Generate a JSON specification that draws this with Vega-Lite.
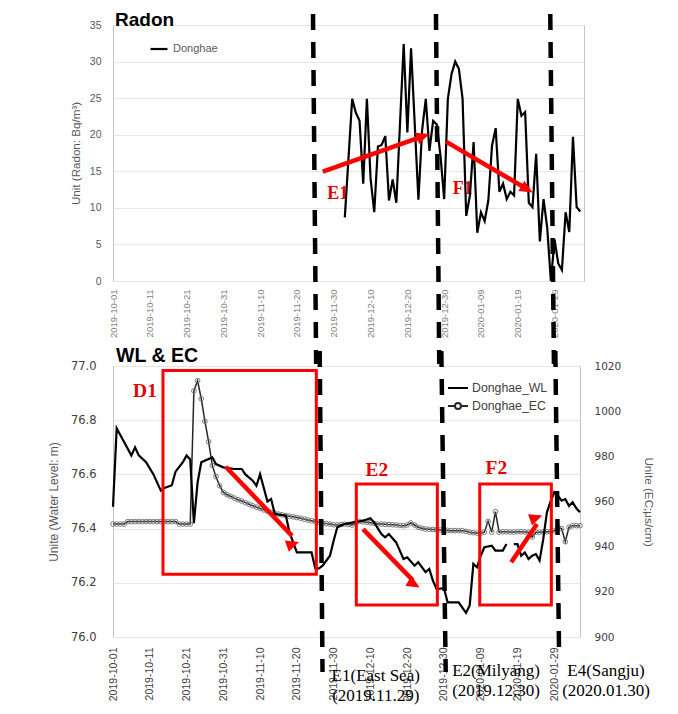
{
  "$schema": "https://vega.github.io/schema/vega-lite/v6.json",
  "background": "white",
  "padding": {"left": 46, "top": 10, "right": 5, "bottom": 5},
  "bounds": "flush",
  "spacing": 85,
  "resolve": {"scale": {"color": "independent"}, "legend": {"color": "independent"}},
  "config": {
    "font": "Liberation Sans",
    "view": {"stroke": "#c4c4c4", "strokeWidth": 1},
    "axis": {"ticks": false, "domain": false, "labelOverlap": false, "labelBound": false, "titleFontWeight": "normal", "titleColor": "#595959", "labelColor": "#595959", "titleFont": "Liberation Sans", "gridColor": "#e6e6e6", "gridWidth": 1},
    "legend": {"padding": 0}
  },
  "datasets": {
    "radon": [
      {"date":"2019-12-03","radon":8.7},{"date":"2019-12-05","radon":24.9},{"date":"2019-12-06","radon":23.0},{"date":"2019-12-07","radon":21.9},{"date":"2019-12-08","radon":13.3},{"date":"2019-12-09","radon":24.9},{"date":"2019-12-10","radon":14.0},{"date":"2019-12-11","radon":9.4},{"date":"2019-12-12","radon":18.4},{"date":"2019-12-13","radon":18.6},{"date":"2019-12-14","radon":19.8},{"date":"2019-12-15","radon":11.0},{"date":"2019-12-16","radon":13.9},{"date":"2019-12-17","radon":10.7},{"date":"2019-12-19","radon":32.4},{"date":"2019-12-20","radon":20.3},{"date":"2019-12-21","radon":31.8},{"date":"2019-12-23","radon":11.1},{"date":"2019-12-24","radon":20.6},{"date":"2019-12-25","radon":24.9},{"date":"2019-12-26","radon":17.8},{"date":"2019-12-27","radon":21.9},{"date":"2019-12-28","radon":21.4},{"date":"2019-12-29","radon":17.1},{"date":"2019-12-30","radon":11.2},{"date":"2019-12-31","radon":24.9},{"date":"2020-01-01","radon":28.3},{"date":"2020-01-02","radon":30.0},{"date":"2020-01-03","radon":29.0},{"date":"2020-01-04","radon":24.9},{"date":"2020-01-05","radon":8.9},{"date":"2020-01-06","radon":11.7},{"date":"2020-01-07","radon":19.0},{"date":"2020-01-08","radon":6.6},{"date":"2020-01-09","radon":9.4},{"date":"2020-01-10","radon":8.2},{"date":"2020-01-11","radon":11.0},{"date":"2020-01-12","radon":18.5},{"date":"2020-01-13","radon":20.9},{"date":"2020-01-14","radon":12.2},{"date":"2020-01-15","radon":13.3},{"date":"2020-01-16","radon":11.2},{"date":"2020-01-17","radon":12.2},{"date":"2020-01-18","radon":11.7},{"date":"2020-01-19","radon":24.9},{"date":"2020-01-20","radon":22.6},{"date":"2020-01-21","radon":23.1},{"date":"2020-01-22","radon":10.7},{"date":"2020-01-23","radon":10.1},{"date":"2020-01-24","radon":17.4},{"date":"2020-01-25","radon":5.4},{"date":"2020-01-26","radon":11.2},{"date":"2020-01-27","radon":7.3},{"date":"2020-01-28","radon":0.0},{"date":"2020-01-29","radon":5.7},{"date":"2020-01-30","radon":2.4},{"date":"2020-01-31","radon":1.5},{"date":"2020-02-01","radon":9.4},{"date":"2020-02-02","radon":6.7},{"date":"2020-02-03","radon":19.7},{"date":"2020-02-04","radon":10.1},{"date":"2020-02-05","radon":9.5}
    ],
    "wl": [
      {"date":"2019-10-01","wl":76.48},{"date":"2019-10-02","wl":76.77},{"date":"2019-10-06","wl":76.67},{"date":"2019-10-07","wl":76.70},{"date":"2019-10-08","wl":76.67},{"date":"2019-10-10","wl":76.645},{"date":"2019-10-12","wl":76.60},{"date":"2019-10-14","wl":76.54},{"date":"2019-10-15","wl":76.55},{"date":"2019-10-17","wl":76.56},{"date":"2019-10-18","wl":76.61},{"date":"2019-10-20","wl":76.645},{"date":"2019-10-21","wl":76.67},{"date":"2019-10-22","wl":76.655},{"date":"2019-10-23","wl":76.42},{"date":"2019-10-24","wl":76.57},{"date":"2019-10-25","wl":76.645},{"date":"2019-10-27","wl":76.657},{"date":"2019-10-28","wl":76.663},{"date":"2019-10-29","wl":76.638},{"date":"2019-10-31","wl":76.626},{"date":"2019-11-03","wl":76.62},{"date":"2019-11-05","wl":76.62},{"date":"2019-11-06","wl":76.60},{"date":"2019-11-08","wl":76.577},{"date":"2019-11-09","wl":76.558},{"date":"2019-11-10","wl":76.601},{"date":"2019-11-12","wl":76.50},{"date":"2019-11-13","wl":76.509},{"date":"2019-11-14","wl":76.454},{"date":"2019-11-17","wl":76.448},{"date":"2019-11-18","wl":76.386},{"date":"2019-11-20","wl":76.312},{"date":"2019-11-24","wl":76.312},{"date":"2019-11-25","wl":76.253},{"date":"2019-11-26","wl":76.253},{"date":"2019-11-27","wl":76.263},{"date":"2019-11-29","wl":76.30},{"date":"2019-11-30","wl":76.355},{"date":"2019-12-01","wl":76.405},{"date":"2019-12-03","wl":76.417},{"date":"2019-12-06","wl":76.425},{"date":"2019-12-08","wl":76.429},{"date":"2019-12-10","wl":76.438},{"date":"2019-12-11","wl":76.423},{"date":"2019-12-13","wl":76.38},{"date":"2019-12-14","wl":76.368},{"date":"2019-12-15","wl":76.38},{"date":"2019-12-17","wl":76.349},{"date":"2019-12-19","wl":76.288},{"date":"2019-12-20","wl":76.294},{"date":"2019-12-22","wl":76.263},{"date":"2019-12-23","wl":76.276},{"date":"2019-12-25","wl":76.239},{"date":"2019-12-26","wl":76.251},{"date":"2019-12-27","wl":76.208},{"date":"2019-12-28","wl":76.177},{"date":"2019-12-30","wl":76.18},{"date":"2019-12-31","wl":76.128},{"date":"2020-01-03","wl":76.128},{"date":"2020-01-05","wl":76.089},{"date":"2020-01-06","wl":76.116},{"date":"2020-01-07","wl":76.27},{"date":"2020-01-08","wl":76.257},{"date":"2020-01-09","wl":76.30},{"date":"2020-01-10","wl":76.331},{"date":"2020-01-12","wl":76.337},{"date":"2020-01-13","wl":76.319},{"date":"2020-01-15","wl":76.319},{"date":"2020-01-16","wl":76.343},{"date":"2020-01-17","wl":null},{"date":"2020-01-18","wl":76.343},{"date":"2020-01-19","wl":76.343},{"date":"2020-01-20","wl":76.30},{"date":"2020-01-21","wl":76.312},{"date":"2020-01-22","wl":76.288},{"date":"2020-01-23","wl":76.30},{"date":"2020-01-24","wl":76.306},{"date":"2020-01-25","wl":76.282},{"date":"2020-01-26","wl":76.36},{"date":"2020-01-27","wl":76.46},{"date":"2020-01-28","wl":76.50},{"date":"2020-01-29","wl":76.534},{"date":"2020-01-30","wl":76.521},{"date":"2020-01-31","wl":76.503},{"date":"2020-02-01","wl":76.509},{"date":"2020-02-02","wl":76.484},{"date":"2020-02-03","wl":76.497},{"date":"2020-02-04","wl":76.475},{"date":"2020-02-05","wl":76.46}
    ],
    "ec": [
      {"date":"2019-10-01","ec":950.0},{"date":"2019-10-02","ec":950.0},{"date":"2019-10-03","ec":950.0},{"date":"2019-10-04","ec":950.0},{"date":"2019-10-05","ec":951.1},{"date":"2019-10-06","ec":951.1},{"date":"2019-10-07","ec":951.1},{"date":"2019-10-08","ec":951.1},{"date":"2019-10-09","ec":951.1},{"date":"2019-10-10","ec":951.1},{"date":"2019-10-11","ec":951.1},{"date":"2019-10-12","ec":951.1},{"date":"2019-10-13","ec":951.1},{"date":"2019-10-14","ec":951.1},{"date":"2019-10-15","ec":951.1},{"date":"2019-10-16","ec":951.1},{"date":"2019-10-17","ec":951.1},{"date":"2019-10-18","ec":951.1},{"date":"2019-10-19","ec":950.0},{"date":"2019-10-20","ec":950.0},{"date":"2019-10-21","ec":950.0},{"date":"2019-10-22","ec":950.0},{"date":"2019-10-23","ec":1009.0},{"date":"2019-10-24","ec":1013.5},{"date":"2019-10-25","ec":1005.5},{"date":"2019-10-26","ec":995.5},{"date":"2019-10-27","ec":986.5},{"date":"2019-10-28","ec":976.0},{"date":"2019-10-29","ec":971.0},{"date":"2019-10-30","ec":967.0},{"date":"2019-10-31","ec":964.0},
      {"date":"2019-11-01","ec":963.0},{"date":"2019-11-02","ec":962.3},{"date":"2019-11-03","ec":961.5},{"date":"2019-11-04","ec":960.8},{"date":"2019-11-05","ec":960.2},{"date":"2019-11-06","ec":959.5},{"date":"2019-11-07","ec":958.8},{"date":"2019-11-08","ec":958.1},{"date":"2019-11-09","ec":957.5},{"date":"2019-11-10","ec":956.9},{"date":"2019-11-11","ec":956.3},{"date":"2019-11-12","ec":955.7},{"date":"2019-11-13","ec":955.2},{"date":"2019-11-14","ec":954.8},{"date":"2019-11-15","ec":954.4},{"date":"2019-11-16","ec":954.1},{"date":"2019-11-17","ec":953.8},{"date":"2019-11-18","ec":953.5},{"date":"2019-11-19","ec":953.2},{"date":"2019-11-20","ec":952.9},{"date":"2019-11-21","ec":952.6},{"date":"2019-11-22","ec":952.2},{"date":"2019-11-23","ec":951.8},{"date":"2019-11-24","ec":951.5},{"date":"2019-11-25","ec":951.1},{"date":"2019-11-26","ec":950.8},{"date":"2019-11-27","ec":950.5},{"date":"2019-11-28","ec":950.2},{"date":"2019-11-29","ec":950.0},{"date":"2019-11-30","ec":949.7},
      {"date":"2019-12-01","ec":949.6},{"date":"2019-12-02","ec":949.8},{"date":"2019-12-03","ec":950.0},{"date":"2019-12-04","ec":949.8},{"date":"2019-12-05","ec":949.6},{"date":"2019-12-06","ec":950.4},{"date":"2019-12-07","ec":951.2},{"date":"2019-12-08","ec":951.0},{"date":"2019-12-09","ec":950.8},{"date":"2019-12-10","ec":950.6},{"date":"2019-12-11","ec":950.3},{"date":"2019-12-12","ec":950.0},{"date":"2019-12-13","ec":950.0},{"date":"2019-12-14","ec":949.9},{"date":"2019-12-15","ec":949.8},{"date":"2019-12-16","ec":949.7},{"date":"2019-12-17","ec":949.6},{"date":"2019-12-18","ec":949.4},{"date":"2019-12-19","ec":949.3},{"date":"2019-12-20","ec":949.6},{"date":"2019-12-21","ec":950.5},{"date":"2019-12-22","ec":949.6},{"date":"2019-12-23","ec":948.6},{"date":"2019-12-24","ec":948.2},{"date":"2019-12-25","ec":947.8},{"date":"2019-12-26","ec":947.7},{"date":"2019-12-27","ec":947.6},{"date":"2019-12-28","ec":947.5},{"date":"2019-12-29","ec":947.4},{"date":"2019-12-30","ec":947.3},{"date":"2019-12-31","ec":947.2},
      {"date":"2020-01-01","ec":947.1},{"date":"2020-01-02","ec":947.1},{"date":"2020-01-03","ec":947.1},{"date":"2020-01-04","ec":947.1},{"date":"2020-01-05","ec":946.8},{"date":"2020-01-06","ec":946.4},{"date":"2020-01-07","ec":946.2},{"date":"2020-01-08","ec":946.0},{"date":"2020-01-09","ec":946.0},{"date":"2020-01-10","ec":946.4},{"date":"2020-01-11","ec":951.2},{"date":"2020-01-12","ec":946.4},{"date":"2020-01-13","ec":955.5},{"date":"2020-01-14","ec":946.4},{"date":"2020-01-15","ec":946.6},{"date":"2020-01-16","ec":946.6},{"date":"2020-01-17","ec":946.5},{"date":"2020-01-18","ec":946.5},{"date":"2020-01-19","ec":946.6},{"date":"2020-01-20","ec":946.6},{"date":"2020-01-21","ec":946.5},{"date":"2020-01-22","ec":946.4},{"date":"2020-01-23","ec":944.3},{"date":"2020-01-24","ec":946.4},{"date":"2020-01-25","ec":946.4},{"date":"2020-01-26","ec":946.5},{"date":"2020-01-27","ec":946.6},{"date":"2020-01-28","ec":946.6},{"date":"2020-01-29","ec":947.0},{"date":"2020-01-30","ec":948.6},{"date":"2020-01-31","ec":948.0},
      {"date":"2020-02-01","ec":942.2},{"date":"2020-02-02","ec":948.6},{"date":"2020-02-03","ec":949.3},{"date":"2020-02-04","ec":949.3},{"date":"2020-02-05","ec":949.3}
    ],
    "topDash": [
      {"xa":"2019-11-24T08:24:00Z","ya":36.5,"xb":"2019-11-25T05:00:00Z","yb":-11.35},
      {"xa":"2019-12-27T18:30:00Z","ya":36.5,"xb":"2019-12-28T16:00:00Z","yb":-11.35},
      {"xa":"2020-01-27T20:00:00Z","ya":36.5,"xb":"2020-01-28T20:00:00Z","yb":-11.35}
    ],
    "topArrows": [
      {"id":"E1","xa":"2019-11-27T00:00:00Z","ya":14.94,"xb":"2019-12-23T09:36:00Z","yb":19.65,"xt":"2019-12-25T22:48:00Z","yt":20.1},
      {"id":"F1","xa":"2019-12-30T12:00:00Z","ya":19.05,"xb":"2020-01-20T16:48:00Z","yb":12.81,"xt":"2020-01-23T01:12:00Z","yt":12.1}
    ],
    "topLabels": [
      {"label":"E1","date":"2019-12-01T02:00:00Z","v":11.9},
      {"label":"F1","date":"2020-01-04T01:00:00Z","v":12.6}
    ],
    "botDash": [
      {"xa":"2019-11-26T05:00:00Z","ya":77.055,"xb":"2019-11-26T23:30:00Z","yb":75.871},
      {"xa":"2019-12-29T07:00:00Z","ya":77.055,"xb":"2019-12-30T11:30:00Z","yb":75.871},
      {"xa":"2020-01-29T07:00:00Z","ya":77.055,"xb":"2020-01-30T07:00:00Z","yb":75.956}
    ],
    "botBoxes": [
      {"id":"D1","xa":"2019-10-14T14:24:00Z","xb":"2019-11-25T07:00:00Z","ya":76.983,"yb":76.232},
      {"id":"E2","xa":"2019-12-06T04:00:00Z","xb":"2019-12-28T05:00:00Z","ya":76.565,"yb":76.118},
      {"id":"F2","xa":"2020-01-08T17:30:00Z","xb":"2020-01-28T05:00:00Z","ya":76.565,"yb":76.118}
    ],
    "botArrows": [
      {"id":"D1","xa":"2019-10-31T15:36:00Z","ya":76.628,"xb":"2019-11-18T16:48:00Z","yb":76.373,"xt":"2019-11-20T14:24:00Z","yt":76.351},
      {"id":"E2","xa":"2019-12-08T00:00:00Z","ya":76.398,"xb":"2019-12-21T12:00:00Z","yb":76.21,"xt":"2019-12-23T09:36:00Z","yt":76.183},
      {"id":"F2","xa":"2020-01-17T07:12:00Z","ya":76.276,"xb":"2020-01-24T07:12:00Z","yb":76.417,"xt":"2020-01-25T18:00:00Z","yt":76.448}
    ],
    "botLabels": [
      {"label":"D1","date":"2019-10-09T17:00:00Z","v":76.908},
      {"label":"E2","date":"2019-12-11T19:00:00Z","v":76.617},
      {"label":"F2","date":"2020-01-13T06:00:00Z","v":76.622}
    ],
    "botNotes": [
      {"label":"E1(East Sea)","date":"2019-12-11T10:48:00Z","v":75.856},
      {"label":"(2019.11.29)","date":"2019-12-11T10:48:00Z","v":75.782},
      {"label":"E2(Milyang)","date":"2020-01-13T04:00:00Z","v":75.875},
      {"label":"(2019.12.30)","date":"2020-01-13T04:00:00Z","v":75.801},
      {"label":"E4(Sangju)","date":"2020-02-12T02:00:00Z","v":75.875},
      {"label":"(2020.01.30)","date":"2020-02-12T02:00:00Z","v":75.801}
    ]
  },
  "vconcat": [
    {
      "width": 471,
      "height": 256,
      "title": {"text": "Radon", "anchor": "start", "frame": "group", "offset": -18, "font": "Liberation Sans", "fontSize": 19, "fontWeight": "bold", "color": "#000000", "dx": 2},
      "layer": [
        {
          "data": {"name": "topLabels"},
          "mark": {"type": "text", "font": "Liberation Serif", "fontWeight": "bold", "fontSize": 18, "color": "#e60000", "align": "center", "baseline": "middle"},
          "encoding": {
            "x": {"field": "date", "type": "temporal",
              "scale": {"type": "utc", "domain": [{"year":2019,"month":10,"date":1,"utc":true},{"year":2020,"month":2,"date":6,"utc":true}]},
              "axis": {"title": null, "format": "%Y-%m-%d", "tickCount": 50, "labelAngle": -90, "labelFont": "Liberation Sans", "labelFontSize": 9.5, "labelColor": "#808080", "labelPadding": 8, "labelOverlap": false, "labelFlush": false, "grid": false,
                "values": [{"year":2019,"month":10,"date":1,"utc":true},{"year":2019,"month":10,"date":11,"utc":true},{"year":2019,"month":10,"date":21,"utc":true},{"year":2019,"month":10,"date":31,"utc":true},{"year":2019,"month":11,"date":10,"utc":true},{"year":2019,"month":11,"date":20,"utc":true},{"year":2019,"month":11,"date":30,"utc":true},{"year":2019,"month":12,"date":10,"utc":true},{"year":2019,"month":12,"date":20,"utc":true},{"year":2019,"month":12,"date":30,"utc":true},{"year":2020,"month":1,"date":9,"utc":true},{"year":2020,"month":1,"date":19,"utc":true},{"year":2020,"month":1,"date":29,"utc":true}]}},
            "y": {"field": "v", "type": "quantitative",
              "scale": {"domain": [0, 35], "nice": false, "zero": false},
              "axis": {"title": "Unit (Radon: Bq/m³)", "values": [0,5,10,15,20,25,30,35], "format": "d", "tickCount": 50, "labelOverlap": false, "grid": true, "labelFont": "Liberation Sans", "labelFontSize": 10.5, "labelPadding": 12, "titleFontSize": 11.6, "titlePadding": 8}},
            "text": {"field": "label", "type": "nominal"}
          }
        },
        {
          "data": {"name": "radon"},
          "mark": {"type": "line", "strokeWidth": 2.2},
          "encoding": {
            "x": {"field": "date", "type": "temporal"},
            "y": {"field": "radon", "type": "quantitative"},
            "color": {"datum": "Donghae", "type": "nominal", "scale": {"domain": ["Donghae"], "range": ["#000000"]},
              "legend": {"title": null, "orient": "none", "legendX": 36, "legendY": 14, "symbolType": "stroke", "symbolSize": 289, "symbolStrokeWidth": 2.2, "labelFont": "Liberation Sans", "labelFontSize": 11, "labelColor": "#595959", "labelOffset": 4}}
          }
        },
        {
          "data": {"name": "topArrows"},
          "mark": {"type": "rule", "color": "#ff0000", "strokeWidth": 4.5, "strokeCap": "butt"},
          "encoding": {
            "x": {"field": "xa", "type": "temporal"},
            "x2": {"field": "xb"},
            "y": {"field": "ya", "type": "quantitative"},
            "y2": {"field": "yb"}
          }
        },
        {
          "data": {"name": "topArrows"},
          "mark": {"type": "point", "shape": "M0,0L0.6,1.3L-0.6,1.3Z", "filled": true, "color": "#ff0000", "size": 400, "opacity": 1},
          "encoding": {
            "x": {"field": "xt", "type": "temporal"},
            "y": {"field": "yt", "type": "quantitative"},
            "angle": {"field": "id", "type": "nominal", "scale": {"type": "ordinal", "domain": ["E1", "F1"], "range": [70.5, 120.3]}, "legend": null}
          }
        },
        {
          "data": {"name": "topDash"},
          "mark": {"type": "rule", "color": "#000000", "strokeWidth": 4.5, "strokeDash": [16, 12], "strokeCap": "butt"},
          "encoding": {
            "x": {"field": "xa", "type": "temporal"},
            "x2": {"field": "xb"},
            "y": {"field": "ya", "type": "quantitative"},
            "y2": {"field": "yb"}
          }
        }
      ]
    },
    {
      "width": 467,
      "height": 271,
      "title": {"text": "WL & EC", "anchor": "start", "frame": "group", "offset": -18, "font": "Liberation Sans", "fontSize": 19.5, "fontWeight": "bold", "color": "#000000", "dx": 3},
      "resolve": {"scale": {"y": "independent"}},
      "layer": [
        {
          "layer": [
            {
              "data": {"name": "ec"},
              "mark": {"type": "line", "strokeWidth": 1.5},
              "encoding": {
                "x": {"field": "date", "type": "temporal"},
                "y": {"field": "ec", "type": "quantitative",
                  "scale": {"domain": [900, 1020], "nice": false, "zero": false},
                  "axis": {"title": "Unite (EC;μs/cm)", "orient": "right", "values": [900,920,940,960,980,1000,1020], "tickCount": 50, "format": "d", "labelOverlap": false, "grid": false, "labelFont": "DejaVu Sans", "labelFontSize": 10.5, "labelColor": "#404040", "labelPadding": 14, "titleFontSize": 11.7, "titlePadding": 22}},
                "color": {"datum": "Donghae_EC", "type": "nominal"}
              }
            },
            {
              "data": {"name": "ec"},
              "mark": {"type": "point", "shape": "circle", "size": 22, "filled": false, "stroke": "#7a7a7a", "strokeWidth": 1, "opacity": 1},
              "encoding": {
                "x": {"field": "date", "type": "temporal"},
                "y": {"field": "ec", "type": "quantitative"}
              }
            }
          ]
        },
        {
          "layer": [
            {
              "data": {"name": "wl"},
              "mark": {"type": "line", "strokeWidth": 2.2, "invalid": "break-paths-filter-domains"},
              "encoding": {
                "x": {"field": "date", "type": "temporal",
                  "scale": {"type": "utc", "domain": [{"year":2019,"month":10,"date":1,"utc":true},{"year":2020,"month":2,"date":5,"utc":true}]},
                  "axis": {"title": null, "format": "%Y-%m-%d", "tickCount": 50, "labelAngle": -90, "labelFont": "Liberation Sans", "labelFontSize": 10.5, "labelColor": "#404040", "labelPadding": 10, "labelOverlap": false, "labelFlush": false, "grid": false,
                    "values": [{"year":2019,"month":10,"date":1,"utc":true},{"year":2019,"month":10,"date":11,"utc":true},{"year":2019,"month":10,"date":21,"utc":true},{"year":2019,"month":10,"date":31,"utc":true},{"year":2019,"month":11,"date":10,"utc":true},{"year":2019,"month":11,"date":20,"utc":true},{"year":2019,"month":11,"date":30,"utc":true},{"year":2019,"month":12,"date":10,"utc":true},{"year":2019,"month":12,"date":20,"utc":true},{"year":2019,"month":12,"date":30,"utc":true},{"year":2020,"month":1,"date":9,"utc":true},{"year":2020,"month":1,"date":19,"utc":true},{"year":2020,"month":1,"date":29,"utc":true}]}},
                "y": {"field": "wl", "type": "quantitative",
                  "scale": {"domain": [76, 77], "nice": false, "zero": false},
                  "axis": {"title": "Unite (Water Level: m)", "orient": "left", "values": [76,76.2,76.4,76.6,76.8,77], "tickCount": 50, "format": ".1f", "labelOverlap": false, "grid": true, "labelFont": "DejaVu Sans", "labelFontSize": 11.5, "labelColor": "#404040", "labelPadding": 17, "titleFontSize": 12, "titlePadding": 10}},
                "color": {"datum": "Donghae_WL", "type": "nominal",
                  "scale": {"domain": ["Donghae_WL", "Donghae_EC"], "range": ["#000000", "#262626"]},
                  "legend": {"title": null, "orient": "none", "legendX": 334, "legendY": 11, "symbolType": "stroke", "symbolSize": 400, "symbolStrokeWidth": 2, "labelFont": "Liberation Sans", "labelFontSize": 12.3, "labelColor": "#404040", "labelOffset": 3, "rowPadding": 0,
                    "encode": {"symbols": {"update": {"shape": {"signal": "datum.value === 'Donghae_EC' ? 'M-1,0L-0.3,0M0.3,0L1,0M-0.3,0A0.3,0.3,0,1,1,0.3,0A0.3,0.3,0,1,1,-0.3,0' : 'stroke'"}, "fill": {"value": "white"}}}}}}
              }
            },
            {
              "data": {"name": "botBoxes"},
              "mark": {"type": "rect", "fillOpacity": 0, "stroke": "#ff0000", "strokeWidth": 3},
              "encoding": {
                "x": {"field": "xa", "type": "temporal"},
                "x2": {"field": "xb"},
                "y": {"field": "ya", "type": "quantitative"},
                "y2": {"field": "yb"}
              }
            },
            {
              "data": {"name": "botArrows"},
              "mark": {"type": "rule", "color": "#ff0000", "strokeWidth": 4.5, "strokeCap": "butt"},
              "encoding": {
                "x": {"field": "xa", "type": "temporal"},
                "x2": {"field": "xb"},
                "y": {"field": "ya", "type": "quantitative"},
                "y2": {"field": "yb"}
              }
            },
            {
              "data": {"name": "botArrows"},
              "mark": {"type": "point", "shape": "M0,0L0.6,1.3L-0.6,1.3Z", "filled": true, "color": "#ff0000", "size": 400, "opacity": 1},
              "encoding": {
                "x": {"field": "xt", "type": "temporal"},
                "y": {"field": "yt", "type": "quantitative"},
                "angle": {"field": "id", "type": "nominal", "scale": {"type": "ordinal", "domain": ["D1", "E2", "F2"], "range": [136.2, 135.8, 33.6]}, "legend": null}
              }
            },
            {
              "data": {"name": "botLabels"},
              "mark": {"type": "text", "font": "Liberation Serif", "fontWeight": "bold", "fontSize": 19.5, "color": "#e60000", "align": "center", "baseline": "middle"},
              "encoding": {
                "x": {"field": "date", "type": "temporal"},
                "y": {"field": "v", "type": "quantitative"},
                "text": {"field": "label", "type": "nominal"}
              }
            },
            {
              "data": {"name": "botNotes"},
              "mark": {"type": "text", "font": "Liberation Serif", "fontSize": 17, "color": "#000000", "align": "center", "baseline": "middle"},
              "encoding": {
                "x": {"field": "date", "type": "temporal"},
                "y": {"field": "v", "type": "quantitative"},
                "text": {"field": "label", "type": "nominal"}
              }
            },
            {
              "data": {"name": "botDash"},
              "mark": {"type": "rule", "color": "#000000", "strokeWidth": 4.5, "strokeDash": [16, 12], "strokeCap": "butt"},
              "encoding": {
                "x": {"field": "xa", "type": "temporal"},
                "x2": {"field": "xb"},
                "y": {"field": "ya", "type": "quantitative"},
                "y2": {"field": "yb"}
              }
            }
          ]
        }
      ]
    }
  ]
}
